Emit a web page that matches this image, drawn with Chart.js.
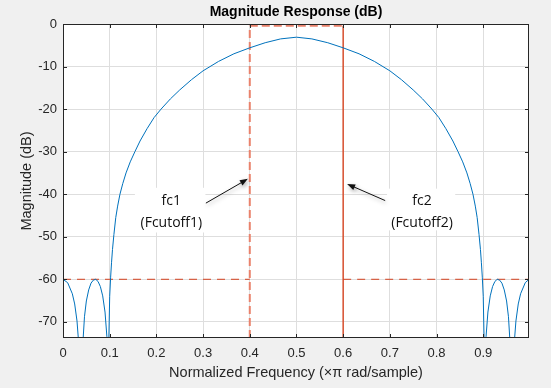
<!DOCTYPE html>
<html>
<head>
<meta charset="utf-8">
<script src="https://cdn.jsdelivr.net/npm/chart.js@4.4.1/dist/chart.umd.min.js"></script>
<style>
  html, body { margin: 0; padding: 0; background: #f0f0f0; }
  #wrap { width: 551px; height: 388px; }
</style>
</head>
<body>
<div id="wrap"><canvas id="magChart" width="551" height="388"></canvas></div>
<script>
// ===============================
// Data
// ===============================
const freq = [
  0, 0.01, 0.02, 0.025, 0.03, 0.034, 0.038,
  0.042, 0.046, 0.05, 0.055, 0.06, 0.065, 0.07, 0.075, 0.08, 0.085, 0.09, 0.094, 0.097,
  0.098, 0.1, 0.102, 0.104, 0.106, 0.109, 0.113, 0.117, 0.122, 0.128, 0.135, 0.144, 0.154,
  0.165, 0.18, 0.195, 0.21, 0.23, 0.25, 0.275, 0.3, 0.333, 0.366, 0.4, 0.433, 0.466, 0.5,
  0.533, 0.567, 0.6, 0.634, 0.667, 0.7, 0.725, 0.75, 0.77, 0.79, 0.805, 0.82, 0.835,
  0.846, 0.856, 0.865, 0.872, 0.878, 0.883, 0.887, 0.891, 0.894, 0.896, 0.898, 0.9, 0.902,
  0.903, 0.906, 0.91, 0.915, 0.92, 0.925, 0.93, 0.935, 0.94, 0.945, 0.95, 0.954, 0.958,
  0.962, 0.966, 0.97, 0.975, 0.98, 0.99, 0.998
];
const magDb = [
  -60, -60.8, -63.4, -65.8, -69.8, -75.6, -110,
  -76, -68.8, -65.1, -62.5, -60.9, -60.2, -60, -60.5, -61.7, -63.9, -67.7, -73.5, -110,
  -75, -64, -59.5, -56, -53, -49.5, -45.5, -42.8, -40, -37.5, -35, -32.4, -30,
  -27.5, -24.6, -22, -20, -17.6, -15.5, -13.1, -11, -8.8, -7, -5.6, -4.4, -3.5, -3.1,
  -3.5, -4.4, -5.6, -7, -8.8, -11, -13.1, -15.5, -17.6, -20, -22, -24.6, -27.5,
  -30, -32.4, -35, -37.5, -40, -42.8, -45.5, -49.5, -53, -56, -59.5, -64, -75,
  -110, -73.5, -67.7, -63.9, -61.7, -60.5, -60, -60.2, -60.9, -62.5, -65.1, -68.8, -76,
  -110, -75.6, -69.8, -65.8, -63.4, -60.8, -60
];
const xTickValues = [0, 0.1, 0.2, 0.3, 0.4, 0.5, 0.6, 0.7, 0.8, 0.9];
const yTickValues = [0, -10, -20, -30, -40, -50, -60, -70];

const xMin = 0, xMax = 0.998;
const yMin = -73.8, yMax = 0;
const fc1 = 0.4, fc2 = 0.6;
const stopDb = -60;
const passTopDb = -0.4;

// annotation texts (positions in data units)
const notes = [
  { lines: ['fc1', '(Fcutoff1)'], x: 0.232, y: -41.5, box: [0.154, 0.305, -38.5, -49],
    from: [0.306, -42.1], to: [0.396, -36.4] },
  { lines: ['fc2', '(Fcutoff2)'], x: 0.769, y: -41.5, box: [0.694, 0.84, -38.7, -48.5],
    from: [0.690, -41.5], to: [0.6085, -37.6] }
];

const pts = freq.map((f, i) => ({ x: f, y: magDb[i] }));

function line(data, color, width, dash) {
  return {
    data: data, borderColor: color, borderWidth: width, borderDash: dash || [],
    pointRadius: 0, fill: false, tension: 0
  };
}

// ===============================
// Plugin: frame, ticks, titles, notes
// ===============================
const matlabLook = {
  id: 'matlabLook',
  beforeDraw(chart) {
    const { ctx, chartArea: a } = chart;
    ctx.save();
    ctx.fillStyle = '#ffffff';
    ctx.fillRect(a.left, a.top, a.right - a.left, a.bottom - a.top);
    ctx.restore();
  },
  afterDatasetsDraw(chart) {
    const { ctx, chartArea: a, scales } = chart;
    const xs = scales.x, ys = scales.y;
    ctx.save();

    notes.forEach(n => {
      // white label box
      const bx0 = xs.getPixelForValue(n.box[0]), bx1 = xs.getPixelForValue(n.box[1]);
      const by0 = ys.getPixelForValue(n.box[2]), by1 = ys.getPixelForValue(n.box[3]);
      ctx.fillStyle = '#ffffff';
      ctx.fillRect(bx0, by0, bx1 - bx0, by1 - by0);

      ctx.fillStyle = '#111111';
      ctx.font = '14px "Open Sans"';
      ctx.textAlign = 'center';
      ctx.textBaseline = 'middle';
      const tx = xs.getPixelForValue(n.x), ty = ys.getPixelForValue(n.y);
      ctx.fillText(n.lines[0], tx, ty);
      ctx.fillText(n.lines[1], tx, ty + 22);

      // arrow with soft shadow
      const x0 = xs.getPixelForValue(n.from[0]), y0 = ys.getPixelForValue(n.from[1]);
      const x1 = xs.getPixelForValue(n.to[0]), y1 = ys.getPixelForValue(n.to[1]);
      const ang = Math.atan2(y1 - y0, x1 - x0);
      ctx.save();
      ctx.shadowColor = 'rgba(0,0,0,0.35)';
      ctx.shadowBlur = 4;
      ctx.shadowOffsetX = 1;
      ctx.shadowOffsetY = 2;
      ctx.strokeStyle = '#111111';
      ctx.lineWidth = 1;
      ctx.beginPath();
      ctx.moveTo(x0, y0);
      ctx.lineTo(x1 - 6 * Math.cos(ang), y1 - 6 * Math.sin(ang));
      ctx.stroke();
      ctx.fillStyle = '#111111';
      ctx.beginPath();
      ctx.moveTo(x1, y1);
      ctx.lineTo(x1 - 8 * Math.cos(ang) + 3 * Math.sin(ang), y1 - 8 * Math.sin(ang) - 3 * Math.cos(ang));
      ctx.lineTo(x1 - 8 * Math.cos(ang) - 3 * Math.sin(ang), y1 - 8 * Math.sin(ang) + 3 * Math.cos(ang));
      ctx.closePath();
      ctx.fill();
      ctx.restore();
    });

    // frame and inward ticks
    ctx.strokeStyle = '#262626';
    ctx.lineWidth = 1;
    ctx.strokeRect(a.left + 0.5, a.top + 0.5, a.right - a.left - 1, a.bottom - a.top - 1);
    ctx.beginPath();
    xTickValues.forEach(v => {
      const px = Math.round(xs.getPixelForValue(v)) + 0.5;
      ctx.moveTo(px, a.bottom); ctx.lineTo(px, a.bottom - 4);
      ctx.moveTo(px, a.top); ctx.lineTo(px, a.top + 4);
    });
    yTickValues.forEach(v => {
      const py = Math.round(ys.getPixelForValue(v)) + 0.5;
      ctx.moveTo(a.left, py); ctx.lineTo(a.left + 4, py);
      ctx.moveTo(a.right, py); ctx.lineTo(a.right - 4, py);
    });
    ctx.stroke();

    // titles
    ctx.fillStyle = '#000000';
    ctx.textAlign = 'center';
    ctx.textBaseline = 'middle';
    ctx.font = 'bold 14px "Liberation Sans"';
    ctx.fillText('Magnitude Response (dB)', (a.left + a.right) / 2, 12);
    ctx.fillStyle = '#262626';
    ctx.font = '14.5px "Liberation Sans"';
    ctx.fillText('Normalized Frequency (\u00d7\u03c0 rad/sample)', (a.left + a.right) / 2, 373);
    ctx.save();
    ctx.translate(27, (a.top + a.bottom) / 2);
    ctx.rotate(-Math.PI / 2);
    ctx.fillText('Magnitude (dB)', 0, 0);
    ctx.restore();

    ctx.restore();
  }
};

// ===============================
// Chart: Magnitude Response
// ===============================
new Chart(document.getElementById('magChart'), {
  type: 'line',
  data: {
    datasets: [
      line(pts, '#0072BD', 1),
      line([{ x: xMin, y: stopDb }, { x: fc1, y: stopDb }], '#d3401f', 1, [8, 6]),
      line([{ x: fc2, y: stopDb }, { x: xMax, y: stopDb }], '#d3401f', 1, [8, 6]),
      line([{ x: fc1, y: yMin }, { x: fc1, y: passTopDb }], '#e9826c', 2, [8, 4]),
      line([{ x: fc1, y: passTopDb }, { x: fc2, y: passTopDb }], '#e9826c', 2, [8, 4]),
      line([{ x: fc2, y: yMin }, { x: fc2, y: passTopDb }], '#d9502f', 1.5)
    ]
  },
  options: {
    responsive: false,
    animation: false,
    layout: { padding: { top: 24, right: 22, left: 0, bottom: 0 } },
    plugins: { legend: { display: false }, tooltip: { enabled: false }, title: { display: false } },
    scales: {
      x: {
        type: 'linear', min: xMin, max: xMax,
        afterBuildTicks: s => { s.ticks = xTickValues.map(v => ({ value: v })); },
        afterFit: s => { s.height = 50; },
        grid: { color: '#dedede', drawTicks: false },
        border: { display: false },
        ticks: {
          padding: 8, color: '#262626', font: { family: 'Liberation Sans', size: 13 },
          callback: v => String(Number(v.toFixed(1)))
        }
      },
      y: {
        type: 'linear', min: yMin, max: yMax,
        afterBuildTicks: s => { s.ticks = yTickValues.map(v => ({ value: v })); },
        afterFit: s => { s.width = 63; },
        grid: { color: '#dedede', drawTicks: false },
        border: { display: false },
        ticks: {
          padding: 6, color: '#262626', font: { family: 'Liberation Sans', size: 13 },
          callback: v => String(v)
        }
      }
    }
  },
  plugins: [matlabLook]
});
</script>
</body>
</html>
